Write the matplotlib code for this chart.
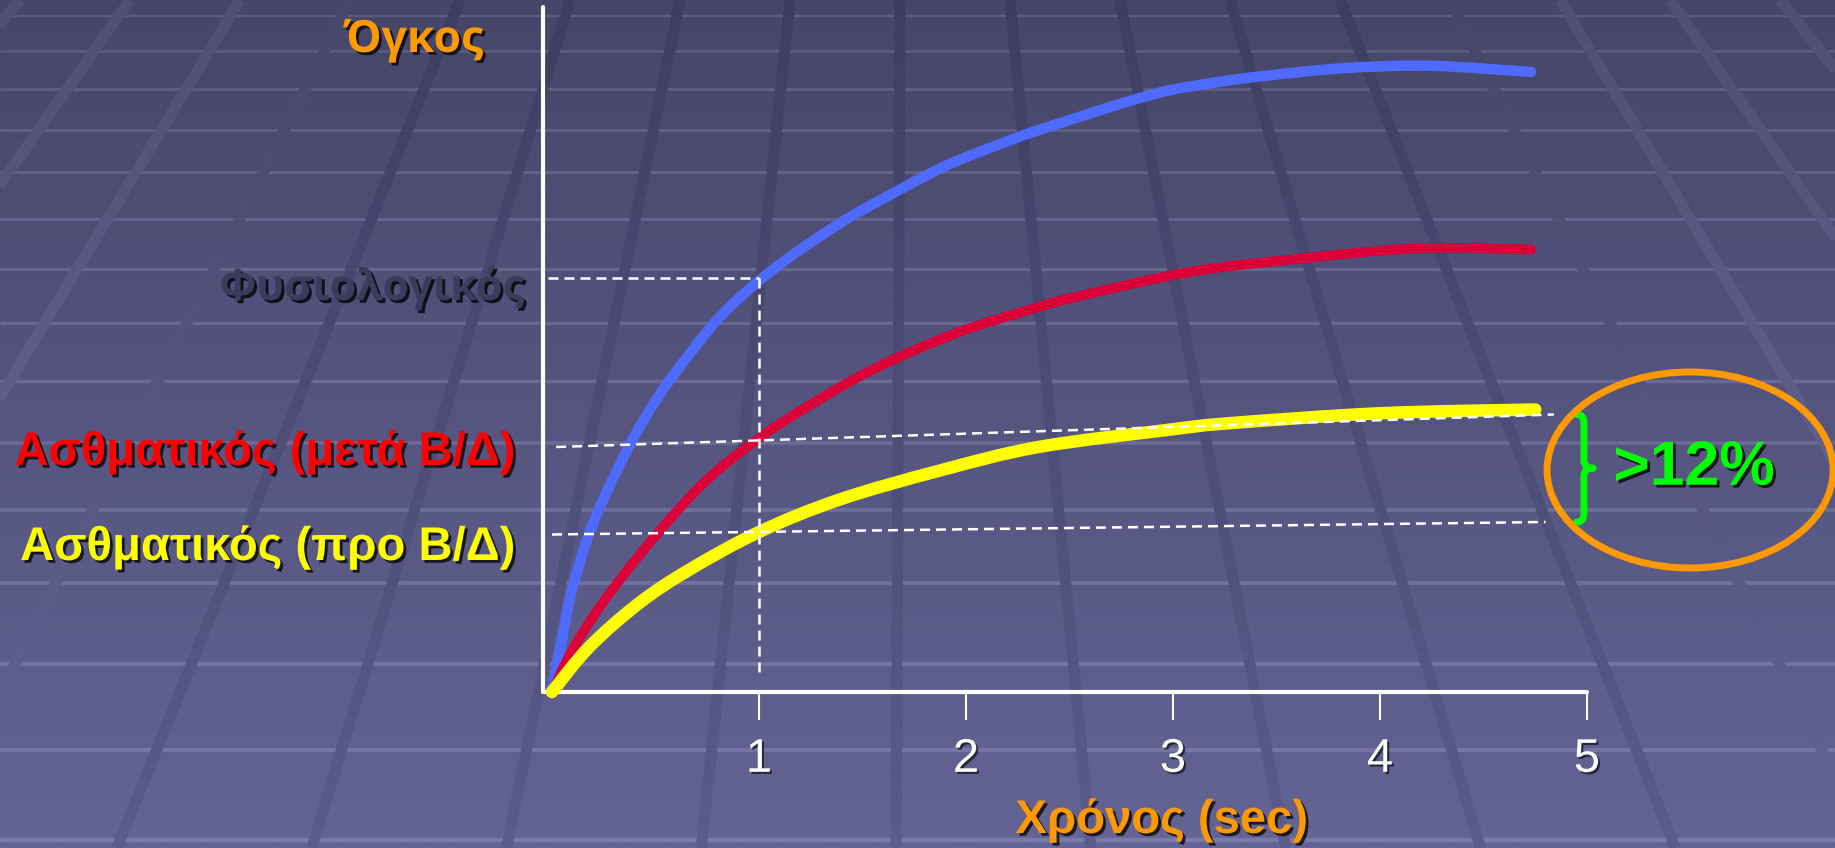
import numpy as np
import matplotlib
matplotlib.use("Agg")
import matplotlib.pyplot as plt
import matplotlib.patheffects as pe
from matplotlib.patches import Ellipse, PathPatch
from matplotlib.path import Path
from matplotlib.collections import LineCollection
from matplotlib.colors import to_rgb

plt.rcParams['font.family'] = ['Liberation Sans', 'DejaVu Sans']

# --- spirometry curves: time (s) vs exhaled volume (L) ---
t_normal = [0.0, 0.05, 0.10, 0.18, 0.27, 0.38, 0.47, 0.58, 0.80, 1.00,
            1.20, 1.42, 1.57, 1.89, 2.16, 2.36, 2.90, 3.22, 3.45, 3.82, 4.24, 4.73]
v_normal = [0.0, 0.44, 0.84, 1.27, 1.62, 1.99, 2.25, 2.52, 2.98, 3.29,
            3.54, 3.78, 3.92, 4.20, 4.38, 4.50, 4.78, 4.88, 4.93, 4.99, 5.01, 4.96]

t_post = [0.0, 0.10, 0.265, 0.51, 0.75, 1.00, 1.23, 1.55, 1.95, 2.35, 2.53,
          3.08, 3.63, 4.19, 4.73]
v_post = [0.0, 0.34, 0.76, 1.27, 1.70, 2.03, 2.28, 2.58, 2.87, 3.08, 3.16,
          3.36, 3.47, 3.55, 3.54]

t_pre = [0.0, 0.18, 0.42, 0.665, 1.00, 1.39, 1.87, 2.35, 2.99, 3.27, 4.00, 4.75]
v_pre = [0.0, 0.36, 0.71, 0.98, 1.28, 1.54, 1.77, 1.96, 2.10, 2.15, 2.23, 2.26]

x_ticks = [1, 2, 3, 4, 5]
tick_labels = ['1', '2', '3', '4', '5']

fev1_time = 1.0
fev1_normal = 3.31
# sloped guide lines for the asthmatic levels (start, end)
guide_post_t = [0.02, 4.84]
guide_post_v = [1.96, 2.22]
guide_pre_t = [0.0, 4.80]
guide_pre_v = [1.26, 1.36]

label_y = 'Όγκος'
label_x = 'Χρόνος (sec)'
label_normal = 'Φυσιολογικός'
label_post = 'Ασθματικός (μετά Β/Δ)'
label_pre = 'Ασθματικός (προ Β/Δ)'
label_gain = '>12%'

W, H = 1835, 848
fig = plt.figure(figsize=(W / 100, H / 100), dpi=100)

# --- slide background: gradient with a perspective tile floor ---
bg = fig.add_axes([0, 0, 1, 1])
bg.set_xlim(0, W)
bg.set_ylim(H, 0)
bg.axis('off')
c_top = np.array(to_rgb('#46466a'))
c_bot = np.array(to_rgb('#646495'))


def bg_colour(y):
    f = np.clip(y / H, 0, 1)
    return c_top * (1 - f) + c_bot * f


ramp = np.linspace(0, H, 256)
img = np.array([bg_colour(y) for y in ramp])[:, None, :]
bg.imshow(img, extent=[0, W, H, 0], aspect='auto', zorder=0, interpolation='bilinear')

floor_rows = [16, 51, 89, 130, 172, 219, 269, 323, 381, 443, 510, 583, 664, 750, 840]
for i, y in enumerate(floor_rows):
    col = np.clip(bg_colour(y) + 0.085, 0, 1)
    bg.plot([0, W], [y, y], color=col, lw=1.7 + 0.1 * i,
            solid_capstyle='butt', zorder=1)

vx, vy = 905.0, -1100.0
for k in range(17):
    x0 = 20 + 110 * k
    ys = np.linspace(0, H, 40)
    xs = vx + (x0 - vx) * (ys - vy) / (0 - vy)
    tone = np.clip((abs(x0 - vx) - 550) / 100.0, -1, 1)
    segs = [[(xs[j], ys[j]), (xs[j + 1], ys[j + 1])] for j in range(len(ys) - 1)]
    cols = [np.clip(bg_colour((ys[j] + ys[j + 1]) / 2) + 0.035 * tone, 0, 1)
            for j in range(len(ys) - 1)]
    bg.add_collection(LineCollection(segs, colors=cols, linewidths=8,
                                     capstyle='butt', zorder=2))

# --- chart axes ---
ax = fig.add_axes([543 / W, (H - 692) / H, (1587 - 543) / W, (692 - 7) / H])
ax.set_xlim(-0.0435, 5.0)
ax.set_ylim(0, 5.48)
ax.patch.set_alpha(0)
for s in ['top', 'right']:
    ax.spines[s].set_visible(False)
for s in ['left', 'bottom']:
    ax.spines[s].set_color('white')
    ax.spines[s].set_linewidth(3)
    ax.spines[s].set_capstyle('round')
ax.set_yticks([])
ax.set_xticks(x_ticks)
ax.set_xticklabels(tick_labels)
ax.tick_params(axis='x', direction='out', length=20, width=1.5, color='white',
               labelcolor='white', labelsize=34, pad=13)
shadow = [pe.SimplePatchShadow(offset=(2, -2), shadow_rgbFace='black', alpha=0.75), pe.Normal()]
for lab in ax.get_xticklabels():
    lab.set_path_effects([pe.SimplePatchShadow(offset=(1.5, -1.5), shadow_rgbFace='black',
                                               alpha=0.6), pe.Normal()])


def smooth_curve(x, y):
    """Bezier path passing through every (x, y) point (Catmull-Rom tangents)."""
    p = np.column_stack([x, y]).astype(float)
    n = len(p)
    verts, codes = [p[0]], [Path.MOVETO]
    for i in range(n - 1):
        a = p[max(i - 1, 0)]
        d = p[min(i + 2, n - 1)]
        c1 = p[i] + (p[i + 1] - a) / 6.0
        c2 = p[i + 1] - (d - p[i]) / 6.0
        verts += [c1, c2, p[i + 1]]
        codes += [Path.CURVE4] * 3
    return Path(verts, codes)


for tx, vv, col, lw in [(t_normal, v_normal, '#4f6bff', 7.5),
                        (t_post, v_post, '#dc0039', 7),
                        (t_pre, v_pre, '#ffff00', 9)]:
    ax.add_patch(PathPatch(smooth_curve(tx, vv), fc='none', ec=col, lw=lw,
                           capstyle='round', joinstyle='round', zorder=3, clip_on=False))

dash = (0, (4, 2.4))
dlw = 1.8
ax.plot([-0.02, fev1_time], [fev1_normal, fev1_normal], color='white', lw=dlw,
        ls=dash, zorder=4, clip_on=False)
ax.plot([fev1_time, fev1_time], [fev1_normal, 0.14], color='white', lw=dlw,
        ls=dash, zorder=4, clip_on=False)
ax.plot(guide_post_t, guide_post_v, color='white', lw=dlw, ls=dash, zorder=4, clip_on=False)
ax.plot(guide_pre_t, guide_pre_v, color='white', lw=dlw, ls=dash, zorder=4, clip_on=False)

# brace spanning the two guide ends
top, bot = guide_post_v[1], guide_pre_v[1]
mid = (top + bot) / 2
xb, xe, xt = 4.985, 4.951, 5.030
cy = 0.064
verts = [(xe, top), (xb, top), (xb, top - cy),
         (xb, mid + cy), (xb, mid), (xt, mid),
         (xb, mid), (xb, mid - cy),
         (xb, bot + cy), (xb, bot), (xe, bot)]
codes = [Path.MOVETO, Path.CURVE3, Path.CURVE3,
         Path.LINETO, Path.CURVE3, Path.CURVE3,
         Path.CURVE3, Path.CURVE3,
         Path.LINETO, Path.CURVE3, Path.CURVE3]
ax.add_patch(PathPatch(Path(verts, codes), fc='none', ec='#00ff00', lw=5,
                       capstyle='round', joinstyle='round', clip_on=False, zorder=5))

ax.add_patch(Ellipse((5.498, 1.776), 1.382, 1.568, fc='none', ec='#ff9900',
                     lw=5, clip_on=False, zorder=5))
ax.text(5.517, 1.79, label_gain, color='#00ff00', fontsize=45, fontweight='bold',
        ha='center', va='center', path_effects=shadow, zorder=6, clip_on=False)

# axis titles
ax.set_ylabel(label_y, rotation=0, color='#ff9900', fontsize=32, fontweight='bold',
              family=['Open Sans', 'DejaVu Sans'], ha='center', va='baseline',
              path_effects=shadow)
ax.yaxis.set_label_coords((414 - 543) / 1044, (692 - 52) / 685)
ax.set_xlabel(label_x, color='#ff9900', fontsize=34, fontweight='bold',
              ha='center', va='baseline', path_effects=shadow)
ax.xaxis.set_label_coords((1162 - 543) / 1044, (692 - 833) / 685)

# curve labels
fig.text(523 / W, 1 - 300 / H, label_normal, color='#3b3b5e', fontsize=31,
         fontweight='bold', family=['Open Sans', 'DejaVu Sans'], ha='right',
         va='baseline',
         path_effects=[pe.SimplePatchShadow(offset=(2, -2), shadow_rgbFace='black', alpha=0.8),
                       pe.Normal()])
fig.text(516 / W, 1 - 465 / H, label_post, color='#ff0000', fontsize=34,
         fontweight='bold', ha='right', va='baseline', path_effects=shadow)
fig.text(516 / W, 1 - 560 / H, label_pre, color='#ffff00', fontsize=34,
         fontweight='bold', ha='right', va='baseline', path_effects=shadow)

fig.savefig('out.png', dpi=100)
